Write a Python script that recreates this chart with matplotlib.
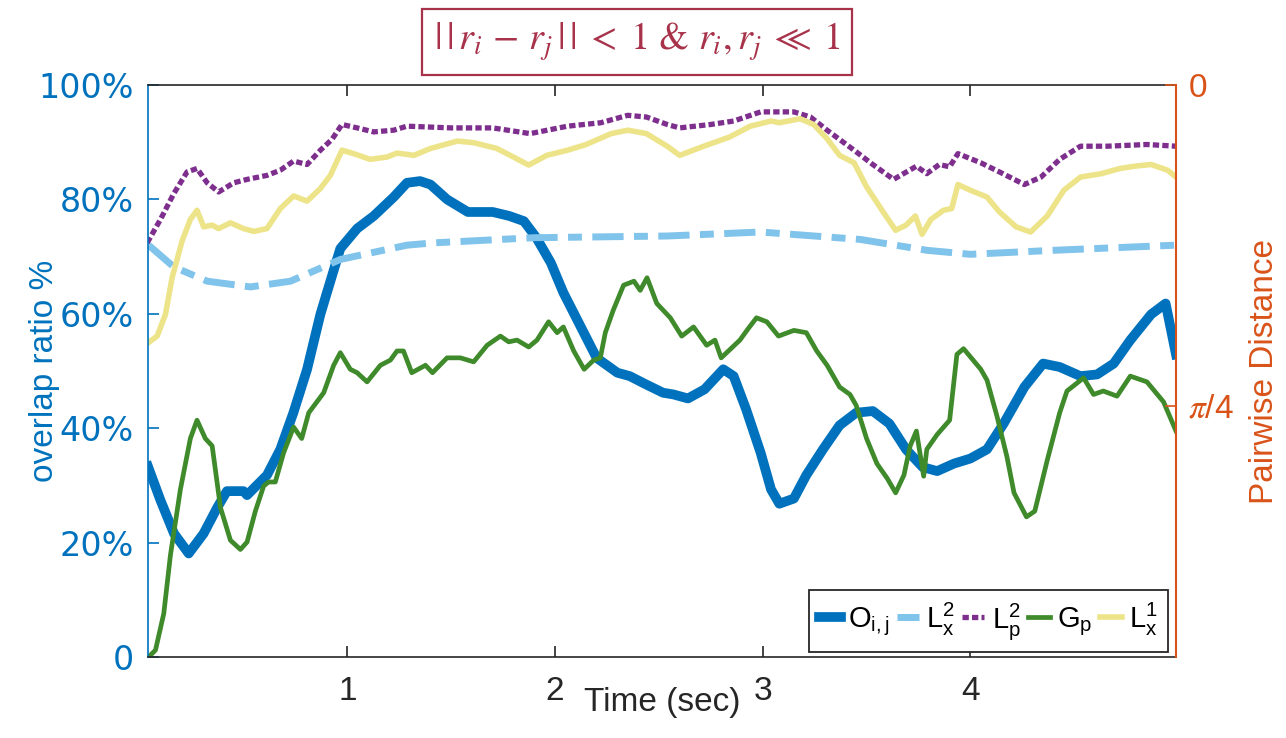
import numpy as np
import matplotlib
matplotlib.use("Agg")
import matplotlib.pyplot as plt

# ---------------- data ----------------
t_O = [0.04,0.10,0.165,0.236,0.308,0.373,0.42,0.50,0.517,0.613,0.677,0.74,0.806,0.87,0.934,0.966,1.047,1.127,1.223,1.287,1.35,1.40,1.48,1.58,1.70,1.78,1.85,1.91,1.98,2.04,2.12,2.20,2.30,2.36,2.43,2.52,2.57,2.64,2.72,2.81,2.86,2.92,2.99,3.04,3.08,3.15,3.21,3.29,3.37,3.45,3.53,3.61,3.69,3.77,3.84,3.92,4.00,4.08,4.16,4.26,4.35,4.43,4.53,4.61,4.69,4.77,4.87,4.94,4.99]
O_ij = [33.3,27.4,21.6,18.1,21.6,26.1,29.0,29.0,28.3,31.8,36.3,42.7,50.3,59.9,67.6,71.4,74.9,77.1,80.4,82.9,83.2,82.6,80.0,77.8,77.8,77.1,76.2,73.3,68.9,63.7,58.0,52.3,49.7,49.1,47.8,46.2,45.9,45.2,46.8,50.3,49.1,43.3,35.7,29.3,26.8,27.7,31.8,36.3,40.5,42.7,43.0,40.8,36.3,33.2,32.5,33.8,34.7,36.3,40.8,47.2,51.3,50.7,49.1,49.4,51.3,55.4,59.9,61.8,52.9]

t_Lx2 = [0.043,0.164,0.325,0.533,0.726,0.966,1.287,1.415,1.897,2.54,2.99,3.47,3.79,4.0,4.40,4.99]
Lx2 = [72.0,68.2,65.7,64.7,65.7,69.5,72.0,72.4,73.3,73.6,74.3,73.0,71.1,70.4,71.1,72.0]

t_Lp2 = [0.036,0.10,0.164,0.228,0.276,0.325,0.38,0.453,0.517,0.613,0.677,0.741,0.806,0.87,0.926,0.974,1.047,1.127,1.223,1.287,1.50,1.70,1.88,2.06,2.22,2.35,2.44,2.54,2.60,2.75,2.86,2.99,3.15,3.23,3.31,3.44,3.53,3.63,3.74,3.79,3.85,3.90,3.94,4.05,4.14,4.26,4.34,4.43,4.53,4.66,4.85,4.99]
Lp2 = [72.4,76.5,81.0,84.8,85.4,82.9,81.3,82.9,83.5,84.2,85.1,86.7,86.1,88.6,90.5,93.1,92.5,91.8,92.1,92.8,92.5,92.5,91.5,92.8,93.4,94.7,94.4,93.1,92.5,93.1,93.7,95.3,95.3,94.4,92.1,88.6,86.1,83.5,85.8,84.5,86.1,85.7,88.0,86.4,84.8,82.6,83.9,87.0,89.3,89.3,89.6,89.3]

t_Gp = [0.043,0.076,0.116,0.148,0.196,0.244,0.276,0.316,0.349,0.389,0.437,0.485,0.517,0.557,0.597,0.621,0.653,0.693,0.741,0.78,0.814,0.886,0.934,0.966,1.014,1.047,1.095,1.159,1.207,1.239,1.27,1.31,1.376,1.41,1.48,1.544,1.608,1.673,1.737,1.777,1.817,1.873,1.913,1.969,2.01,2.04,2.09,2.14,2.186,2.218,2.242,2.28,2.33,2.38,2.41,2.443,2.49,2.555,2.61,2.667,2.73,2.77,2.80,2.89,2.93,2.97,3.02,3.076,3.15,3.21,3.26,3.31,3.37,3.42,3.45,3.50,3.55,3.60,3.64,3.68,3.71,3.74,3.775,3.79,3.84,3.90,3.935,3.967,4.05,4.08,4.128,4.176,4.21,4.27,4.31,4.37,4.43,4.465,4.545,4.593,4.64,4.706,4.77,4.85,4.93,4.99]
Gp = [0,1.2,7.6,17.8,29.3,38.2,41.4,38.2,36.9,26.1,20.4,18.8,20.1,25.5,29.9,30.6,30.6,35.7,40.2,38.2,42.7,46.2,51.0,53.2,50.3,49.7,48.1,51.0,51.9,53.5,53.5,49.7,51.0,49.7,52.3,52.3,51.6,54.5,56.1,55.1,55.4,54.2,55.4,58.6,56.7,57.7,53.5,50.3,51.9,52.3,56.7,60.6,65.0,65.7,64.1,66.3,61.8,59.3,56.1,57.7,54.5,55.4,52.3,55.4,57.4,59.3,58.6,56.1,57.1,56.7,53.5,51.0,47.2,45.9,44.0,38.2,33.8,31.2,28.7,31.8,36.9,39.5,31.6,36.3,38.9,41.4,52.9,53.9,50.3,48.4,42.1,35.0,28.7,24.5,25.5,34.4,42.7,46.5,48.8,45.9,46.5,45.6,49.1,48.1,44.6,39.5]

t_Lx1 = [0.036,0.084,0.124,0.156,0.204,0.244,0.276,0.308,0.349,0.38,0.437,0.50,0.549,0.613,0.677,0.741,0.806,0.87,0.918,0.974,1.03,1.11,1.19,1.24,1.32,1.40,1.53,1.61,1.72,1.80,1.873,1.96,2.06,2.15,2.27,2.35,2.44,2.54,2.60,2.716,2.84,2.94,3.04,3.08,3.18,3.245,3.31,3.37,3.44,3.50,3.58,3.64,3.69,3.735,3.767,3.81,3.87,3.91,3.94,4.0,4.08,4.14,4.22,4.29,4.37,4.45,4.53,4.63,4.72,4.79,4.87,4.95,4.99]
Lx1 = [54.8,56.1,59.9,66.3,72.7,76.5,78.1,75.2,75.5,74.9,75.9,74.9,74.4,74.9,78.4,80.6,79.7,81.9,84.2,88.6,88.0,87.0,87.4,88.1,87.7,88.9,90.2,89.9,88.9,87.4,86.0,87.7,88.6,89.6,91.5,92.1,91.5,89.3,87.7,89.3,90.9,92.8,93.7,93.4,94.1,93.1,90.6,87.7,86.4,82.2,77.8,74.6,75.5,77.1,73.9,76.5,78.1,78.4,82.6,81.6,80.4,77.8,75.2,74.3,77.1,81.6,83.9,84.5,85.4,85.8,86.1,85.1,83.9]

x_ticks = [1, 2, 3, 4]
y_ticks = [0, 20, 40, 60, 80, 100]
y_ticklabels = ["0", "20%", "40%", "60%", "80%", "100%"]
r_ticks = [0, np.pi / 4]
r_ticklabels = ["0", r"$\pi$/4"]
legend_labels = [r"O$_{\mathregular{i,j}}$", r"L$_{\mathregular{x}}^{\mathregular{2}}$",
                 r"L$_{\mathregular{p}}^{\mathregular{2}}$", r"G$_{\mathregular{p}}$",
                 r"L$_{\mathregular{x}}^{\mathregular{1}}$"]
title_text = r"$|\,|\,r_i\, -\, r_j\,|\,|\; <\; 1$ & $r_i, r_j \;\ll\; 1$"

# ---------------- style ----------------
plt.rcParams['font.family'] = ['Liberation Sans', 'DejaVu Sans']
plt.rcParams['mathtext.fontset'] = 'custom'
plt.rcParams['mathtext.rm'] = 'Liberation Sans'
plt.rcParams['mathtext.it'] = 'Liberation Sans:italic'

C_LEFT = '#0072BD'
C_RIGHT = '#D95319'
C_O = '#0072BD'
C_LX2 = '#80C3EB'
C_LP2 = '#7E2F8E'
C_GP = '#3F8A2B'
C_LX1 = '#EDE48A'
C_TITLE = '#A8324A'

fig = plt.figure(figsize=(12.86, 7.38), dpi=100)
ax = fig.add_axes([148/1286, 81/738, 1028/1286, 572/738])

ax.plot(t_O, O_ij, color=C_O, lw=7.0, solid_joinstyle='round', label=legend_labels[0])
ax.plot(t_Lx2, Lx2, color=C_LX2, lw=5.0, dashes=(4.5, 1.5, 2.0, 1.5), label=legend_labels[1])
ax.plot(t_Lp2, Lp2, color=C_LP2, lw=3.8, dashes=(1.2, 0.6), label=legend_labels[2])
ax.plot(t_Gp, Gp, color=C_GP, lw=3.4, label=legend_labels[3])
ax.plot(t_Lx1, Lx1, color=C_LX1, lw=4.0, label=legend_labels[4])

ax.set_xlim(0.04, 4.99)
ax.set_ylim(0, 100)
ax.set_xticks(x_ticks)
ax.set_xticklabels([str(v) for v in x_ticks])
ax.set_yticks(y_ticks)
ax.set_yticklabels(y_ticklabels, family='DejaVu Sans')

ax.tick_params(axis='x', direction='in', length=8, width=1.2, colors='#262626',
               labelsize=24, pad=14, top=True)
ax.tick_params(axis='y', direction='in', length=8, width=1.2, colors=C_LEFT,
               labelsize=24, pad=10)
for s in ['top', 'bottom']:
    ax.spines[s].set_color('#262626')
    ax.spines[s].set_linewidth(1.2)
ax.spines['left'].set_color(C_LEFT)
ax.spines['left'].set_linewidth(1.2)
ax.spines['right'].set_visible(False)

ax.set_xlabel('Time (sec)', fontsize=24, color='#262626', va='top')
ax.xaxis.set_label_coords(0.5, -0.052)
ax.set_ylabel('overlap ratio %', fontsize=24, color=C_LEFT)
ax.yaxis.set_label_coords(-0.086, 0.5)

ax2 = ax.twinx()
ax2.set_ylim(1.40, 0)
ax2.set_yticks(r_ticks)
ax2.set_yticklabels(r_ticklabels)
ax2.tick_params(axis='y', direction='in', length=8, width=1.2, colors=C_RIGHT,
                labelsize=24, pad=9)
for lbl in ax2.get_yticklabels():
    lbl.set_math_fontfamily('stix')
ax2.spines['right'].set_color(C_RIGHT)
ax2.spines['right'].set_linewidth(1.5)
for s in ['top', 'bottom', 'left']:
    ax2.spines[s].set_visible(False)
ax2.set_ylabel('Pairwise Distance', fontsize=24, color=C_RIGHT)
ax2.yaxis.set_label_coords(1.071, 0.5)

leg = ax.legend(loc='lower right', bbox_to_anchor=(0.992, 0.009), borderaxespad=0,
                ncol=5, fontsize=21, handlelength=0.75, handletextpad=0.25,
                columnspacing=0.25, borderpad=0.35, fancybox=False, framealpha=1,
                edgecolor='#262626')
leg.get_frame().set_linewidth(1.3)

fig.text(637/1286, 1 - 42/738, title_text, fontsize=27.5, color=C_TITLE,
         family='STIXGeneral', ha='center', va='center', math_fontfamily='stix',
         bbox=dict(boxstyle='square,pad=0.32', facecolor='white', edgecolor=C_TITLE, lw=1.6))

fig.savefig('out.png', dpi=100)
